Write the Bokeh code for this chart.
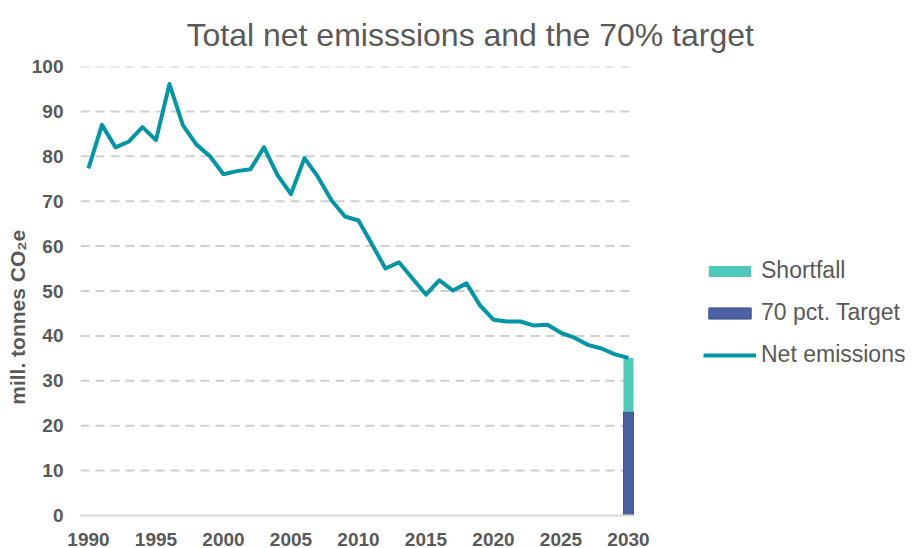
from bokeh.plotting import figure
from bokeh.models import Range1d, FixedTicker, Legend, LegendItem
from bokeh.embed import file_html
from bokeh.resources import INLINE

years = list(range(1990, 2031))
net_emissions = [77.3, 87.0, 82.0, 83.3, 86.5, 83.6, 96.1, 86.9, 82.6, 80.0,
                 76.0, 76.7, 77.1, 82.0, 75.8, 71.6, 79.6, 75.4, 70.2, 66.6,
                 65.7, 60.4, 55.0, 56.4, 52.8, 49.2, 52.4, 50.1, 51.7, 46.8,
                 43.6, 43.2, 43.2, 42.3, 42.5, 40.7, 39.6, 38.0, 37.2, 35.9,
                 35.1]
bar_year = [2030]
target = [23.1]
shortfall_top = [35.1]
x_ticks = list(range(1990, 2031, 5))
y_ticks = list(range(0, 101, 10))
grid_ticks = y_ticks[1:]

TXT = "#595959"
FONT = "Liberation Sans"

# plot area (data part) spans 1989.4 .. 2030.45; frame extends right to hold legend
x_start, data_end = 1989.41, 2030.45
px_per_year = 13.5
frame_w = 913 - 80
x_end = x_start + frame_w / px_per_year

p = figure(width=913, height=548, output_backend="svg", toolbar_location=None,
           x_range=Range1d(x_start, x_end), y_range=Range1d(0, 100),
           min_border_left=80, min_border_right=0, min_border_top=66,
           min_border_bottom=33)
p.outline_line_color = None
p.background_fill_color = "white"

p.title.text = "Total net emisssions and the 70% target"
p.title.text_font = FONT
p.title.text_font_size = "32px"
p.title.text_font_style = "normal"
p.title.text_color = TXT
p.title.align = "left"
p.title.offset = 106
p.title.standoff = 27

# dashed horizontal gridlines limited to the data area
p.segment(x0=[x_start] * len(grid_ticks), x1=[data_end] * len(grid_ticks),
          y0=grid_ticks, y1=grid_ticks, line_color="#CFCFCF", line_width=2,
          line_dash="9 6")

r_target = p.vbar(x=bar_year, bottom=0, top=target, width=0.74,
                  fill_color="#4A62A2", line_color="#3E5390", line_width=1)
r_short = p.vbar(x=bar_year, bottom=target, top=shortfall_top, width=0.74,
                 fill_color="#4FC9BA", line_color=None)
r_line = p.line(years, net_emissions, line_color="#0096A5", line_width=4,
                line_join="round")

p.xaxis.ticker = FixedTicker(ticks=x_ticks)
p.yaxis.ticker = FixedTicker(ticks=y_ticks)
p.xgrid.grid_line_color = None
p.ygrid.grid_line_color = None
p.xaxis.bounds = (x_start, data_end)

for ax in (p.xaxis[0], p.yaxis[0]):
    ax.major_tick_line_color = None
    ax.minor_tick_line_color = None
    ax.major_label_text_font = FONT
    ax.major_label_text_font_style = "bold"
    ax.major_label_text_font_size = "19px"
    ax.major_label_text_color = TXT
p.yaxis.axis_line_color = None
p.xaxis.axis_line_color = "#D9D9D9"
p.xaxis.axis_line_width = 2
p.yaxis.major_label_standoff = 11
p.xaxis.major_label_standoff = 11

p.yaxis.axis_label = "mill. tonnes CO\u2082e" + "\u00a0" * 9
p.yaxis.axis_label_text_font = FONT
p.yaxis.axis_label_text_font_style = "bold"
p.yaxis.axis_label_text_font_size = "21px"
p.yaxis.axis_label_text_color = TXT
p.yaxis.axis_label_standoff = 0

legend = Legend(items=[
    LegendItem(label="Shortfall", renderers=[r_short]),
    LegendItem(label="70 pct. Target", renderers=[r_target]),
    LegendItem(label="Net emissions", renderers=[r_line]),
], location=(623, 147))
legend.label_text_font = FONT
legend.label_text_font_size = "23px"
legend.label_text_color = TXT
legend.glyph_width = 53
legend.glyph_height = 14
legend.label_standoff = 5
legend.spacing = 15
legend.border_line_color = None
legend.background_fill_alpha = 0
legend.padding = 0
legend.margin = 0
p.add_layout(legend, "center")

open("out.html", "w").write(file_html(p, INLINE))
